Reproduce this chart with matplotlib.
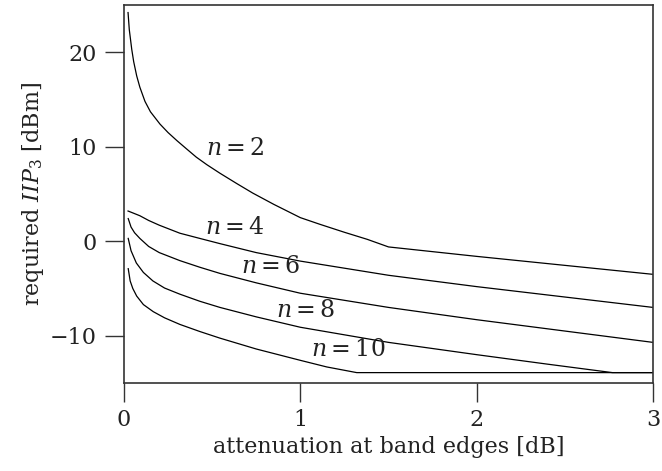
from matplotlib import pyplot as plt

plt.rcParams['font.family'] = 'DejaVu Serif'
plt.rcParams['mathtext.fontset'] = 'dejavuserif'

# attenuation [dB] and required IIP3 [dBm]
x_n2 = [0.023, 0.03, 0.044, 0.055, 0.072, 0.09, 0.119, 0.15, 0.204, 0.25, 0.30, 0.35,
        0.41, 0.47, 0.544, 0.64, 0.73, 0.85, 1.0, 1.11, 1.25, 1.38, 1.5, 2.0, 3.0]
y_n2 = [24.2, 22.4, 20.3, 19.0, 17.5, 16.3, 14.8, 13.7, 12.4, 11.5, 10.65, 9.85,
        8.9, 8.1, 7.2, 6.1, 5.1, 3.9, 2.5, 1.8, 0.95, 0.2, -0.6, -1.6, -3.5]

x_n4 = [0.023, 0.05, 0.09, 0.14, 0.2, 0.317, 0.43, 0.544, 0.75, 1.0, 1.5, 2.0, 2.5, 3.0]
y_n4 = [3.2, 3.0, 2.7, 2.2, 1.7, 0.85, 0.3, -0.25, -1.2, -2.1, -3.6, -4.8, -5.9, -7.0]

x_n6 = [0.024, 0.04, 0.06, 0.09, 0.14, 0.2, 0.317, 0.43, 0.544, 0.75, 1.0, 1.5, 2.0, 2.5, 3.0]
y_n6 = [2.4, 1.5, 0.9, 0.3, -0.55, -1.2, -2.05, -2.75, -3.4, -4.4, -5.5, -7.0, -8.3, -9.5, -10.7]

x_n8 = [0.024, 0.04, 0.07, 0.11, 0.164, 0.23, 0.317, 0.43, 0.544, 0.75, 1.0, 1.5,
        2.0, 2.4, 2.77, 3.0]
y_n8 = [0.3, -1.0, -2.3, -3.3, -4.2, -4.95, -5.6, -6.35, -7.0, -8.0, -9.1, -10.7,
        -12.0, -13.0, -13.9, -13.9]

x_n10 = [0.024, 0.035, 0.05, 0.072, 0.11, 0.166, 0.23, 0.317, 0.43, 0.544, 0.75, 1.0,
         1.15, 1.32, 3.0]
y_n10 = [-2.9, -4.2, -5.0, -5.8, -6.7, -7.45, -8.1, -8.8, -9.55, -10.25, -11.4, -12.6,
         -13.3, -13.9, -13.9]

curves = [
    (x_n2, y_n2, '$n = 2$', 0.63, 9.8),
    (x_n4, y_n4, '$n = 4$', 0.63, 1.45),
    (x_n6, y_n6, '$n = 6$', 0.83, -2.7),
    (x_n8, y_n8, '$n = 8$', 1.03, -7.3),
    (x_n10, y_n10, '$n = 10$', 1.27, -11.5),
]

fig = plt.figure(figsize=(6.62, 4.71), dpi=100)
ax = fig.add_axes([0.1873, 0.1868, 0.7991, 0.8026])

for xs, ys, label, lx, ly in curves:
    ax.plot(xs, ys, color='black', linewidth=0.9)
    ax.text(lx, ly, label, fontsize=17, ha='center', va='center', color='#222222')

ax.set_xlim(0, 3)
ax.set_ylim(-15, 25)
ax.set_xticks([0, 1, 2, 3])
ax.set_yticks([-10, 0, 10, 20])
ax.set_yticklabels(['\u221210', '0', '10', '20'])

for spine in ax.spines.values():
    spine.set_color('#333333')
    spine.set_linewidth(1.2)

ax.tick_params(axis='both', direction='out', length=13.5, width=1.0, color='#333333',
               labelsize=16, labelcolor='#222222', pad=5)
ax.tick_params(axis='y', pad=6)

ax.set_xlabel('attenuation at band edges [dB]', fontsize=16, color='#222222', labelpad=4)
ax.set_ylabel('required $IIP_3$ [dBm]', fontsize=16, color='#222222', labelpad=3)

fig.savefig('out.png', dpi=100)
